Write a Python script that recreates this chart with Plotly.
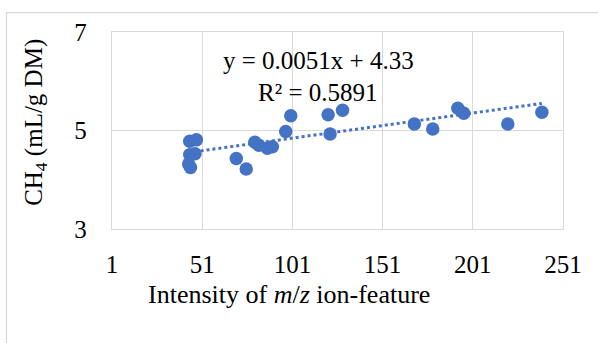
import plotly.graph_objects as go

# Data
intensity = [44.1, 47.8, 44.1, 47.0, 43.5, 44.5, 69.9, 75.4, 80.2, 82.4, 87.1, 89.9,
             97.3, 100.1, 120.8, 128.8, 121.9, 168.6, 178.8, 192.7, 196.0, 220.4, 239.3]
ch4 = [4.78, 4.81, 4.51, 4.53, 4.32, 4.25, 4.43, 4.22, 4.76, 4.70, 4.64, 4.67,
       4.98, 5.30, 5.32, 5.41, 4.93, 5.13, 5.03, 5.45, 5.35, 5.13, 5.37]
slope = 0.0051
intercept = 4.33
r2 = 0.5891
x_ticks = [1, 51, 101, 151, 201, 251]
y_ticks = [3, 5, 7]

BLUE = "#4472C4"
GRID = "#D9D9D9"
FONT = "Liberation Serif"

x_tr = [min(intensity), max(intensity)]
y_tr = [slope * v + intercept for v in x_tr]

fig = go.Figure()
fig.add_trace(go.Scatter(x=x_tr, y=y_tr, mode="lines",
                         line=dict(color=BLUE, width=3, dash="dot"),
                         hoverinfo="skip", showlegend=False))
fig.add_trace(go.Scatter(x=intensity, y=ch4, mode="markers",
                         marker=dict(color=BLUE, size=13.5, line=dict(width=0)),
                         showlegend=False))

fig.update_layout(
    width=598, height=343,
    margin=dict(l=112, r=35, t=32, b=114),
    paper_bgcolor="white", plot_bgcolor="white",
    font=dict(family=FONT, size=25, color="#000000"),
    showlegend=False,
)
fig.update_xaxes(range=[1, 251], tickvals=x_ticks, ticktext=[str(t) for t in x_ticks],
                 showgrid=True, gridcolor=GRID, gridwidth=1.3,
                 showline=True, linecolor=GRID, linewidth=1.3, mirror=True,
                 zeroline=False, ticks="", ticklabelstandoff=13,
                 tickfont=dict(family=FONT, size=25))
fig.update_yaxes(range=[3, 7], tickvals=y_ticks, ticktext=[str(t) for t in y_ticks],
                 showgrid=True, gridcolor=GRID, gridwidth=1.3,
                 showline=True, linecolor=GRID, linewidth=1.3, mirror=True,
                 zeroline=False, ticks="", ticklabelstandoff=19,
                 tickfont=dict(family=FONT, size=25))

# chart frame
fig.add_shape(type="rect", xref="paper", yref="paper",
              x0=-0.234, x1=1.2, y0=-0.7, y1=1.098,
              line=dict(color=GRID, width=1.3), fillcolor="rgba(0,0,0,0)", layer="below")

fig.add_annotation(x=115.2, y=6.43, xref="x", yref="y", showarrow=False,
                   text=f"y = {slope}x + {intercept}", font=dict(family=FONT, size=25))
fig.add_annotation(x=115.2, y=5.77, xref="x", yref="y", showarrow=False,
                   text=f"R² = {r2}", font=dict(family=FONT, size=25))

# axis titles
fig.add_annotation(x=(288.5 - 112) / 451, y=(229.3 - 295) / 197.3, xref="paper", yref="paper",
                   showarrow=False, text="Intensity of <i>m</i>/<i>z</i> ion-feature",
                   font=dict(family=FONT, size=26), xanchor="center", yanchor="middle")
fig.add_annotation(x=(36 - 112) / 451, y=(229.3 - 123) / 197.3, xref="paper", yref="paper",
                   showarrow=False, text="CH<sub>4</sub> (mL/g DM)", textangle=-90,
                   font=dict(family=FONT, size=25), xanchor="center", yanchor="middle")

fig.write_html("out.html")
